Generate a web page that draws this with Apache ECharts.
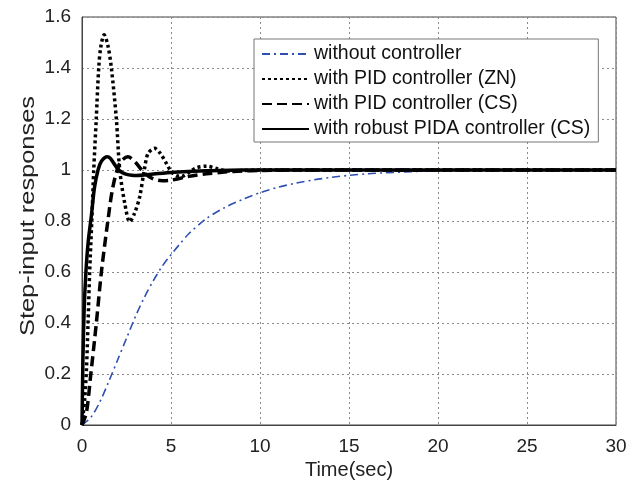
<!DOCTYPE html>
<html>
<head>
<meta charset="utf-8">
<script src="https://cdn.jsdelivr.net/npm/echarts@6/dist/echarts.min.js"></script>
<style>
  html, body { margin: 0; padding: 0; background: #fff; }
  #chart { width: 630px; height: 491px; }
</style>
</head>
<body>
<div id="chart"></div>
<script>
// data (time in sec, step response)
const tOpen = [0, 0.5, 1, 1.5, 2, 2.5, 3, 3.5, 4, 4.5, 5, 5.5, 6, 7, 8, 9, 10, 11, 12, 13, 14, 15, 16, 17, 18, 19, 20, 22, 25, 30]
const yOpen = [0, 0.03, 0.09, 0.17, 0.255, 0.34, 0.425, 0.5, 0.565, 0.622, 0.668, 0.71, 0.75, 0.81, 0.852, 0.884, 0.911, 0.932, 0.948, 0.961, 0.971, 0.979, 0.985, 0.989, 0.992, 0.995, 0.997, 0.999, 1, 1]

const tZN = [0, 0.15, 0.25, 0.34, 0.43, 0.55, 0.66, 0.8, 0.94, 1.05, 1.24, 1.45, 1.65, 1.93, 2.12, 2.4, 2.68, 2.95, 3.24, 3.5, 3.71, 4.08, 4.4, 4.74, 5, 5.3, 5.6, 6, 6.4, 7, 7.6, 8.2, 9, 10, 30]
const yZN = [0, 0.1, 0.22, 0.4, 0.6, 0.8, 1.0, 1.2, 1.4, 1.48, 1.53, 1.49, 1.4, 1.2, 1.0, 0.87, 0.797, 0.83, 0.895, 1.0, 1.065, 1.085, 1.065, 1.026, 0.995, 0.978, 0.975, 0.99, 1.008, 1.015, 1.005, 0.996, 0.998, 1, 1]

const tCS = [0, 0.25, 0.49, 0.8, 1.09, 1.46, 1.74, 2.12, 2.58, 3, 3.52, 4, 4.5, 5, 6, 7, 8, 9, 10, 12, 30]
const yCS = [0, 0.05, 0.196, 0.396, 0.6, 0.804, 0.935, 1.026, 1.052, 1.03, 0.987, 0.965, 0.958, 0.96, 0.975, 0.985, 0.992, 0.996, 0.998, 1, 1]

const tPIDA = [0, 0.03, 0.05, 0.12, 0.22, 0.35, 0.52, 0.7, 0.9, 1.1, 1.42, 1.6, 1.8, 2, 2.25, 2.5, 2.8, 3.05, 3.5, 4, 5, 6, 7, 9, 30]
const yPIDA = [0, 0.15, 0.25, 0.45, 0.6, 0.72, 0.817, 0.93, 1.0, 1.035, 1.052, 1.045, 1.025, 1.005, 0.99, 0.983, 0.979, 0.978, 0.98, 0.984, 0.99, 0.994, 0.997, 1, 1]

const names = ['without controller', 'with PID controller (ZN)', 'with PID controller (CS)', 'with robust PIDA controller (CS)']
const yTitle = 'Step-input responses'

const pairs = (t, y) => t.map((v, i) => [v, y[i]])

const font = 'Liberation Sans'
const myChart = echarts.init(document.getElementById('chart'))

const gridLine = { show: true, lineStyle: { color: '#8a8a8a', width: 1, type: [2, 3] } }

myChart.setOption({
  animation: false,
  backgroundColor: '#fff',
  grid: {
    left: 82, right: 14, top: 17, bottom: 66,
    show: true, borderColor: '#444', borderWidth: 1
  },
  // y title is drawn stretched along its length, like the picture
  graphic: [{
    type: 'text',
    x: 28, y: 216,
    rotation: Math.PI / 2,
    scaleX: 1.27,
    style: {
      text: yTitle,
      font: '20px "Liberation Sans"',
      fill: '#222',
      align: 'center',
      verticalAlign: 'middle'
    }
  }],
  legend: {
    orient: 'vertical',
    left: 254, top: 39,
    padding: [5, 8, 3, 7],
    itemGap: 5,
    itemWidth: 47,
    itemHeight: 14,
    backgroundColor: '#fff',
    borderColor: '#777',
    borderWidth: 1,
    itemStyle: { opacity: 0 },
    textStyle: { fontFamily: font, fontSize: 19.5, color: '#111', lineHeight: 20 },
    data: names
  },
  xAxis: {
    type: 'value', min: 0, max: 30, interval: 5,
    name: 'Time(sec)', nameLocation: 'middle', nameGap: 32,
    nameTextStyle: { fontFamily: font, fontSize: 20, color: '#222' },
    axisLine: { show: true, onZero: false, lineStyle: { color: '#444' } },
    axisTick: { show: false },
    axisLabel: { fontFamily: font, fontSize: 19, color: '#222', margin: 12 },
    splitLine: gridLine
  },
  yAxis: {
    type: 'value', min: 0, max: 1.6, interval: 0.2,
    axisLine: { show: true, onZero: false, lineStyle: { color: '#444' } },
    axisTick: { show: false },
    axisLabel: { fontFamily: font, fontSize: 19, color: '#222', margin: 11 },
    splitLine: gridLine
  },
  series: [
    {
      name: names[0], type: 'line', symbol: 'none', smooth: 0.3,
      data: pairs(tOpen, yOpen),
      itemStyle: { color: '#2d4fb0' },
      lineStyle: { color: '#2d4fb0', width: 1.6, type: [8, 4, 2, 4] }
    },
    {
      name: names[1], type: 'line', symbol: 'none', smooth: 0.3,
      data: pairs(tZN, yZN),
      itemStyle: { color: '#000' },
      lineStyle: { color: '#000', width: 3.5, type: [3, 3] }
    },
    {
      name: names[2], type: 'line', symbol: 'none', smooth: 0.3,
      data: pairs(tCS, yCS),
      itemStyle: { color: '#000' },
      lineStyle: { color: '#000', width: 3.5, type: [10, 5] }
    },
    {
      name: names[3], type: 'line', symbol: 'none', smooth: 0.3,
      data: pairs(tPIDA, yPIDA),
      itemStyle: { color: '#000' },
      lineStyle: { color: '#000', width: 3.5 }
    }
  ]
})
</script>
</body>
</html>
